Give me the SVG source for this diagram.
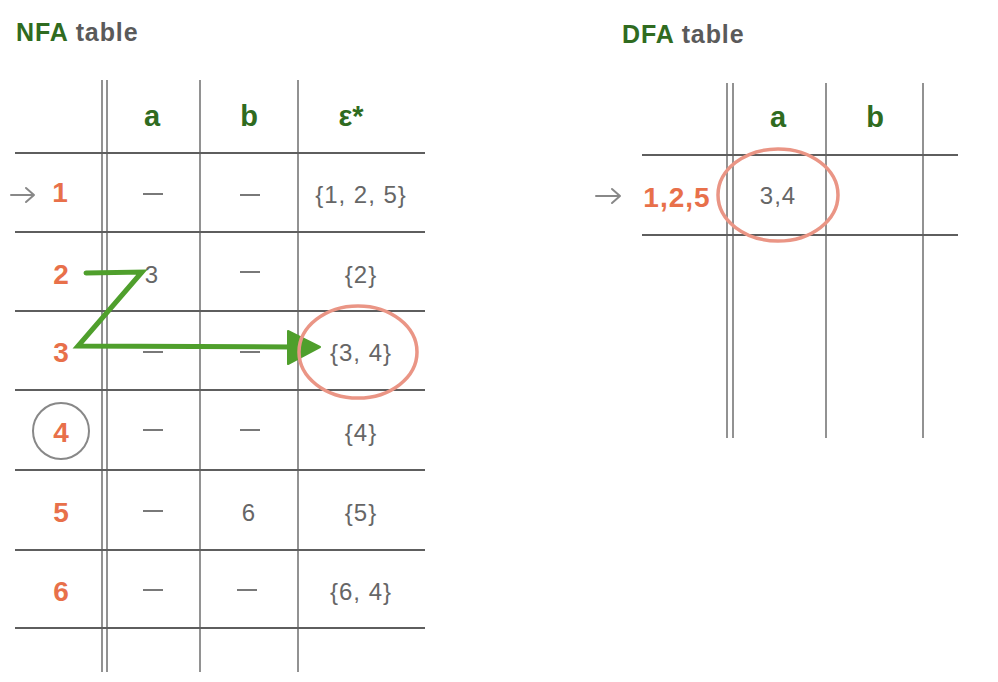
<svg xmlns="http://www.w3.org/2000/svg" width="998" height="682" viewBox="0 0 998 682">
<defs>
<style>
.bg{fill:#ffffff}
.ln{stroke:#5e5e5e;stroke-width:2.2;fill:none}
.lnv{stroke:#777;stroke-width:1.6;fill:none}
.title{font-family:"Liberation Sans",Arial,sans-serif;font-weight:bold;font-size:25px;letter-spacing:0.9px}
.g{fill:#2f6b20}
.gr{fill:#5a5a5a}
.hdr{font-family:"Liberation Sans",Arial,sans-serif;font-weight:bold;font-size:29px;fill:#2f6b20;text-anchor:middle}
.lbl{font-family:"Liberation Sans",Arial,sans-serif;font-weight:bold;font-size:28px;fill:#e8704a;text-anchor:middle}
.val{font-family:"Liberation Sans",Arial,sans-serif;font-size:24px;fill:#666;text-anchor:middle;letter-spacing:1px}
.dash{stroke:#6a6a6a;stroke-width:1.8}
.arr{stroke:#888;stroke-width:2;fill:none;stroke-linecap:round;stroke-linejoin:round}
.zz{stroke:#4f9f2c;stroke-width:5;fill:none;stroke-linejoin:miter;stroke-linecap:round}
.ov{stroke:#ea9585;stroke-width:3.5;fill:none}
.ci{stroke:#888;stroke-width:2;fill:none}
</style>
</defs>
<rect class="bg" x="0" y="0" width="998" height="682"/>

<g id="nfa-title"><text class="title" x="16" y="41"><tspan class="g">NFA</tspan><tspan class="gr"> table</tspan></text></g>
<g id="dfa-title"><text class="title" x="622" y="43"><tspan class="g">DFA</tspan><tspan class="gr"> table</tspan></text></g>

<g id="nfa-grid">
<line class="lnv" x1="102" y1="80" x2="102" y2="672"/>
<line class="lnv" x1="107" y1="80" x2="107" y2="672"/>
<line class="lnv" x1="200" y1="80" x2="200" y2="672"/>
<line class="lnv" x1="298" y1="80" x2="298" y2="672"/>
<line class="ln" x1="15" y1="153" x2="425" y2="153"/>
<line class="ln" x1="15" y1="232" x2="425" y2="232"/>
<line class="ln" x1="15" y1="311" x2="425" y2="311"/>
<line class="ln" x1="15" y1="390" x2="425" y2="390"/>
<line class="ln" x1="15" y1="470" x2="425" y2="470"/>
<line class="ln" x1="15" y1="550" x2="425" y2="550"/>
<line class="ln" x1="15" y1="628" x2="425" y2="628"/>
</g>

<g id="nfa-header">
<text class="hdr" x="152" y="126">a</text>
<text class="hdr" x="249" y="126">b</text>
<text class="hdr" x="351" y="126">ε*</text>
</g>

<g id="nfa-row1">
<path class="arr" d="M11,195 H34 M26,188 L34,195 L26,202"/>
<text class="lbl" x="60" y="202">1</text>
<line class="dash" x1="143" y1="194" x2="163" y2="194"/>
<line class="dash" x1="240" y1="195" x2="260" y2="195"/>
<text class="val" x="361" y="203">{1, 2, 5}</text>
</g>
<g id="nfa-row2">
<text class="lbl" x="61" y="284">2</text>
<text class="val" x="152" y="283">3</text>
<line class="dash" x1="240" y1="272" x2="260" y2="272"/>
<text class="val" x="361" y="283">{2}</text>
</g>
<g id="nfa-row3">
<text class="lbl" x="61" y="362">3</text>
<line class="dash" x1="143" y1="352" x2="163" y2="352"/>
<line class="dash" x1="240" y1="352" x2="260" y2="352"/>
<text class="val" x="361" y="361">{3, 4}</text>
</g>
<g id="nfa-row4">
<circle class="ci" cx="61" cy="431" r="28"/>
<text class="lbl" x="61" y="442">4</text>
<line class="dash" x1="143" y1="430" x2="163" y2="430"/>
<line class="dash" x1="240" y1="430" x2="260" y2="430"/>
<text class="val" x="361" y="441">{4}</text>
</g>
<g id="nfa-row5">
<text class="lbl" x="61" y="522">5</text>
<line class="dash" x1="143" y1="511" x2="163" y2="511"/>
<text class="val" x="249" y="521">6</text>
<text class="val" x="361" y="521">{5}</text>
</g>
<g id="nfa-row6">
<text class="lbl" x="61" y="601">6</text>
<line class="dash" x1="143" y1="590" x2="163" y2="590"/>
<line class="dash" x1="237" y1="590" x2="257" y2="590"/>
<text class="val" x="361" y="600">{6, 4}</text>
</g>

<g id="dfa-grid">
<line class="lnv" x1="727" y1="83" x2="727" y2="438"/>
<line class="lnv" x1="733" y1="83" x2="733" y2="438"/>
<line class="lnv" x1="826" y1="83" x2="826" y2="438"/>
<line class="lnv" x1="923" y1="83" x2="923" y2="438"/>
<line class="ln" x1="642" y1="155" x2="958" y2="155"/>
<line class="ln" x1="642" y1="235" x2="958" y2="235"/>
</g>
<g id="dfa-header">
<text class="hdr" x="778" y="127">a</text>
<text class="hdr" x="875" y="127">b</text>
</g>
<g id="dfa-row1">
<path class="arr" d="M596,196 H620 M612,189 L620,196 L612,203"/>
<text class="lbl" x="677" y="207" style="letter-spacing:1px">1,2,5</text>
<text class="val" x="778" y="204">3,4</text>
</g>

<g id="connectors">
<path class="zz" d="M86,273 L142,272 L78,346 L292,347"/>
<path d="M288,331 L320,347 L288,364 Z" fill="#4f9f2c" stroke="#4f9f2c" stroke-width="2" stroke-linejoin="round"/>
<ellipse class="ov" cx="358" cy="352" rx="59" ry="46"/>
<ellipse class="ov" cx="778" cy="195" rx="60" ry="46"/>
</g>
</svg>
